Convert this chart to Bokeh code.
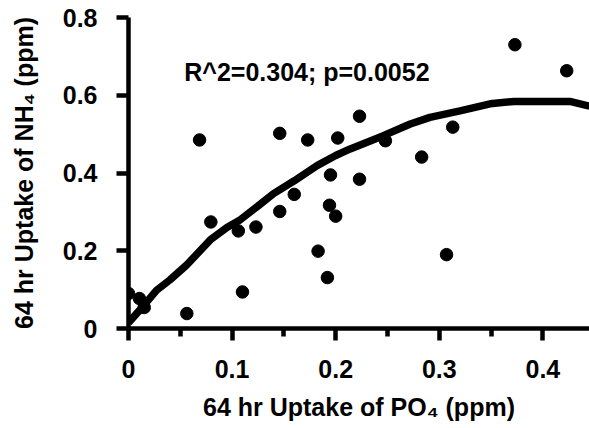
from bokeh.plotting import figure
from bokeh.models import FixedTicker, Label, Range1d
from bokeh.embed import file_html
from bokeh.resources import INLINE

# Data
po4 = [0.0, 0.0106, 0.0152, 0.0563, 0.0686, 0.0795, 0.106, 0.110, 0.123, 0.146,
       0.146, 0.160, 0.173, 0.183, 0.192, 0.194, 0.195, 0.200, 0.202, 0.223,
       0.223, 0.248, 0.283, 0.307, 0.313, 0.373, 0.423]
nh4 = [0.090, 0.077, 0.054, 0.0385, 0.485, 0.274, 0.251, 0.094, 0.261, 0.301,
       0.502, 0.345, 0.485, 0.199, 0.131, 0.317, 0.395, 0.289, 0.490, 0.546,
       0.384, 0.483, 0.441, 0.190, 0.518, 0.730, 0.663]

fit_x = [0.0, 0.015, 0.027, 0.040, 0.056, 0.079, 0.095, 0.108, 0.125, 0.140,
         0.160, 0.182, 0.200, 0.214, 0.246, 0.272, 0.291, 0.320, 0.349, 0.372,
         0.426, 0.445]
fit_y = [0.015, 0.060, 0.098, 0.125, 0.163, 0.228, 0.260, 0.280, 0.315, 0.347,
         0.380, 0.419, 0.445, 0.462, 0.496, 0.526, 0.543, 0.560, 0.578, 0.584,
         0.584, 0.572]

x_ticks = [0, 0.1, 0.2, 0.3, 0.4]
x_tick_labels = ["0", "0.1", "0.2", "0.3", "0.4"]
x_minor_ticks = [0.05, 0.15, 0.25, 0.35]
y_ticks = [0, 0.2, 0.4, 0.6, 0.8]
y_tick_labels = ["0", "0.2", "0.4", "0.6", "0.8"]
x_title = "64 hr Uptake of PO\u2084 (ppm)"
y_title = "64 hr Uptake of NH\u2084 (ppm)"
stat_text = "R^2=0.304; p=0.0052"

FONT = "Liberation Sans"

p = figure(width=589, height=428, output_backend="svg", toolbar_location=None,
           x_range=Range1d(0, 0.445), y_range=Range1d(0, 0.8),
           min_border_left=128, min_border_right=0, min_border_top=17,
           min_border_bottom=100)
p.background_fill_color = "white"
p.border_fill_color = "white"
p.outline_line_color = None
p.grid.visible = False

p.line(fit_x, fit_y, line_color="black", line_width=7.5)
p.scatter(po4, nh4, size=12.5, fill_color="black", line_color="black")

p.add_layout(Label(x=0.0538, y=0.659, text=stat_text, text_font=FONT,
                   text_font_size="25px", text_font_style="bold",
                   text_color="black", text_baseline="alphabetic"))

xa = p.xaxis[0]
xa.ticker = FixedTicker(ticks=x_ticks, minor_ticks=x_minor_ticks)
xa.major_label_overrides = {t: l for t, l in zip(x_ticks, x_tick_labels)}
xa.axis_label = x_title
xa.major_tick_out = 12
xa.major_tick_in = 0
xa.minor_tick_out = 8
xa.minor_tick_in = 0
xa.major_label_standoff = 19
xa.axis_label_standoff = 12

ya = p.yaxis[0]
ya.ticker = FixedTicker(ticks=y_ticks, minor_ticks=[])
ya.major_label_overrides = {t: l for t, l in zip(y_ticks, y_tick_labels)}
ya.axis_label = y_title
ya.major_tick_out = 12
ya.major_tick_in = 0
ya.minor_tick_out = 0
ya.minor_tick_in = 0
ya.major_label_standoff = 19
ya.axis_label_standoff = 22
ya.major_label_orientation = "horizontal"

for ax in (xa, ya):
    ax.axis_line_width = 4.5
    ax.axis_line_color = "black"
    ax.major_tick_line_width = 4.5
    ax.major_tick_line_color = "black"
    ax.minor_tick_line_width = 4.5
    ax.minor_tick_line_color = "black"
    ax.major_label_text_font = FONT
    ax.major_label_text_font_size = "25px"
    ax.major_label_text_font_style = "bold"
    ax.major_label_text_color = "black"
    ax.axis_label_text_font = FONT
    ax.axis_label_text_font_size = "25px"
    ax.axis_label_text_font_style = "bold"
    ax.axis_label_text_color = "black"

open("out.html", "w").write(file_html(p, INLINE))
